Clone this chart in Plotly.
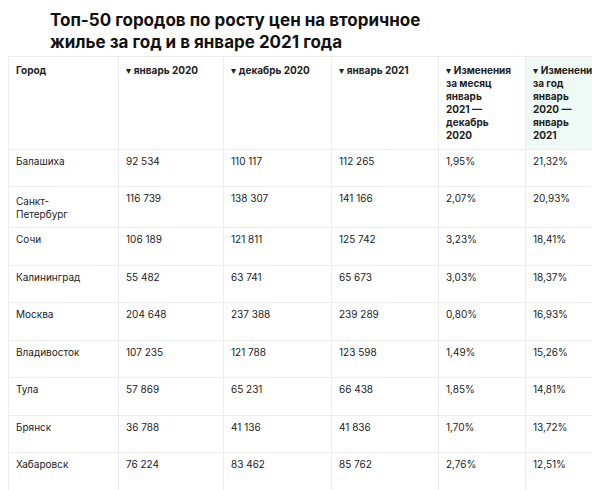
import plotly.graph_objects as go

cities = ["Балашиха", "Санкт-<br>Петербург", "Сочи", "Калининград", "Москва",
          "Владивосток", "Тула", "Брянск", "Хабаровск", "Пенза"]
jan2020 = ["92 534", "116 739", "106 189", "55 482", "204 648",
           "107 235", "57 869", "36 788", "76 224", "46 013"]
dec2020 = ["110 117", "138 307", "121 811", "63 741", "237 388",
           "121 788", "65 231", "41 136", "83 462", "51 603"]
jan2021 = ["112 265", "141 166", "125 742", "65 673", "239 289",
           "123 598", "66 438", "41 836", "85 762", "51 706"]
chg_month = ["1,95%", "2,07%", "3,23%", "3,03%", "0,80%",
             "1,49%", "1,85%", "1,70%", "2,76%", "0,20%"]
chg_year = ["21,32%", "20,93%", "18,41%", "18,37%", "16,93%",
            "15,26%", "14,81%", "13,72%", "12,51%", "12,37%"]

headers = [
    "<b>Город</b>",
    "▾ <b>январь 2020</b>",
    "▾ <b>декабрь 2020</b>",
    "▾ <b>январь 2021</b>",
    "▾ <b>Изменения<br>за месяц<br>январь<br>2021 —<br>декабрь<br>2020</b>",
    "▾ <b>Изменения<br>за год<br>январь<br>2020 —<br>январь<br>2021</b>",
]

fig = go.Figure(go.Table(
    columnwidth=[110, 105, 108, 107, 87, 83],
    header=dict(values=headers, align="left", height=84,
                fill_color=["white"] * 5 + ["#effaf6"],
                line_color="#ececec",
                font=dict(family="Inter", size=10, color="#222")),
    cells=dict(values=[cities, jan2020, dec2020, jan2021, chg_month, chg_year],
               align="left", height=37.5, fill_color="white",
               line_color="#ececec",
               font=dict(family="Inter", size=10, color="#222")),
    domain=dict(x=[0, 1], y=[0, 1 - 48 / 490]),
))

fig.add_annotation(
    text="<b>Топ-50 городов по росту цен на вторичное<br>жилье за год и в январе 2021 года</b>",
    xref="paper", yref="paper", x=40 / 600, y=1, xanchor="left", yanchor="top",
    align="left", showarrow=False,
    font=dict(family="Inter", size=17, color="#111"))

fig.update_layout(
    width=600, height=490, margin=dict(l=0, r=0, t=0, b=0),
    paper_bgcolor="white",
)

fig.write_html("out.html")
